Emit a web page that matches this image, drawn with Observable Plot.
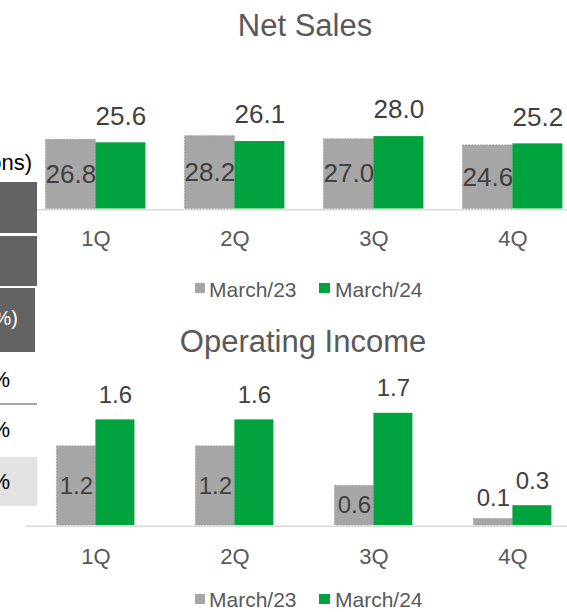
<!DOCTYPE html>
<html>
<head>
<meta charset="utf-8">
<script src="https://cdn.jsdelivr.net/npm/d3@7"></script>
<script src="https://cdn.jsdelivr.net/npm/@observablehq/plot@0.6"></script>
<style>
  html, body { margin: 0; padding: 0; background: #fff; }
  body { width: 567px; height: 612px; overflow: hidden; position: relative; font-family: "Liberation Sans", Arial, sans-serif; }
  .abs { position: absolute; white-space: nowrap; }
  .title { color: #595959; font-size: 31px; line-height: 31px; transform: translateX(-50%); }
  .leg-sq { position: absolute; width: 10px; height: 10px; }
  .leg-tx { position: absolute; color: #595959; font-size: 21px; line-height: 21px; white-space: nowrap; }
  .chart { position: absolute; left: 0; width: 600px; }
  .tbl { position: absolute; z-index: 5; }
  .tbltx { position: absolute; z-index: 6; white-space: nowrap; line-height: 22px; font-size: 22px; text-align: right; }
</style>
</head>
<body>
<div class="abs title" style="left:305px; top:10px;">Net Sales</div>
<div class="abs title" style="left:303px; top:326px;">Operating Income</div>

<div id="ns" class="chart" style="top:60px;"></div>
<div id="oi" class="chart" style="top:365px;"></div>

<div id="leg1"></div>
<div id="leg2"></div>

<!-- fragment of the neighbouring table, cut by the crop -->
<div class="tbltx" style="right:535px; top:152px; color:#000;">ons)</div>
<div class="tbl" style="left:0; top:182px; width:37px; height:51px; background:#636363;"></div>
<div class="tbl" style="left:0; top:236px; width:37px; height:50px; background:#636363;"></div>
<div class="tbl" style="left:0; top:288px; width:35px; height:64px; background:#636363;"></div>
<div class="tbltx" style="right:549px; top:308px; color:#fff; font-size:20px; line-height:20px;">%)</div>
<div class="tbltx" style="right:557px; top:369px; color:#000;">%</div>
<div class="tbl" style="left:0; top:403px; width:37px; height:2px; background:#a6a6a6;"></div>
<div class="tbl" style="left:0; top:457px; width:37px; height:49px; background:#e2e2e2;"></div>
<div class="tbltx" style="right:557px; top:419px; color:#000;">%</div>
<div class="tbltx" style="right:557px; top:471px; color:#000;">%</div>

<script>
// ---- data ----
const quarters = ["1Q", "2Q", "3Q", "4Q"];
const seriesNames = ["March/23", "March/24"];
const netSales23 = [26.8, 28.2, 27.0, 24.6];
const netSales24 = [25.6, 26.1, 28.0, 25.2];
const opIncome23 = [1.2, 1.2, 0.6, 0.1];
const opIncome24 = [1.6, 1.6, 1.7, 0.3];

const GRAY = "#a6a6a6";
const GREEN = "#00a33d";
const LABEL = "#404040";
const AXIS = "#595959";

function rows(a, b) {
  const out = [];
  quarters.forEach((q, i) => {
    out.push({q, s: seriesNames[0], v: a[i]});
    out.push({q, s: seriesNames[1], v: b[i]});
  });
  return out;
}

function chart({data, yMax, height, xPad, labelSize, tickPadding, dyTop, smallLimit}) {
  const prev = data.filter(d => d.s === seriesNames[0]);
  const curr = data.filter(d => d.s === seriesNames[1]);
  return Plot.plot({
    width: 600,
    height,
    marginTop: 0,
    marginBottom: 50,
    marginLeft: 24.6,
    marginRight: 16.1,
    style: {fontFamily: '"Liberation Sans", Arial, sans-serif', color: AXIS, background: "transparent", maxWidth: "none", overflow: "visible"},
    fx: {domain: quarters, padding: 0, label: null},
    x: {domain: seriesNames, paddingInner: 0, paddingOuter: xPad, axis: null},
    y: {domain: [0, yMax], axis: null},
    color: {domain: seriesNames, range: [GRAY, GREEN]},
    marks: [
      Plot.ruleY([0], {stroke: "#d9d9d9", strokeWidth: 1.5, dy: 0.8}),
      Plot.barY(prev, {fx: "q", x: "s", y: "v", fill: GRAY, stroke: "#8f8f8f", strokeWidth: 0.6, strokeDasharray: "1.5,1.5"}),
      Plot.barY(curr, {fx: "q", x: "s", y: "v", fill: GREEN}),
      Plot.text(curr, {fx: "q", x: "s", y: "v", text: d => d.v.toFixed(1), dy: dyTop, lineAnchor: "middle", fontSize: labelSize, fill: LABEL}),
      Plot.text(prev.filter(d => d.v >= smallLimit), {fx: "q", x: "s", y: d => d.v / 2, text: d => d.v.toFixed(1), lineAnchor: "middle", fontSize: labelSize, fill: LABEL}),
      Plot.text(prev.filter(d => d.v < smallLimit), {fx: "q", x: "s", y: "v", text: d => d.v.toFixed(1), dy: -21, lineAnchor: "middle", fontSize: labelSize, fill: LABEL}),
      Plot.axisFx({anchor: "bottom", tickSize: 0, tickPadding, fontSize: 22, fill: AXIS, label: null})
    ]
  });
}

document.getElementById("ns").append(chart({
  data: rows(netSales23, netSales24), yMax: 148.5 / 2.585, height: 198.5,
  xPad: 0.37, labelSize: 26, tickPadding: 21, dyTop: -26.5, smallLimit: 0
}));
document.getElementById("oi").append(chart({
  data: rows(opIncome23, opIncome24), yMax: 160 / 66, height: 210,
  xPad: 0.756, labelSize: 24, tickPadding: 23, dyTop: -24.5, smallLimit: 0.3
}));

function legend(el, sqTop, txTop) {
  const pos = [{sq: 195, tx: 209, w: 10}, {sq: 319, tx: 335, w: 11}];
  seriesNames.forEach((name, i) => {
    const sq = document.createElement("div");
    sq.className = "leg-sq";
    sq.style.left = pos[i].sq + "px";
    sq.style.top = sqTop + "px";
    sq.style.width = pos[i].w + "px";
    sq.style.background = i === 0 ? GRAY : GREEN;
    const tx = document.createElement("div");
    tx.className = "leg-tx";
    tx.style.left = pos[i].tx + "px";
    tx.style.top = txTop + "px";
    tx.textContent = name;
    el.append(sq, tx);
  });
}
legend(document.getElementById("leg1"), 283, 279);
legend(document.getElementById("leg2"), 594, 589);
</script>
</body>
</html>
